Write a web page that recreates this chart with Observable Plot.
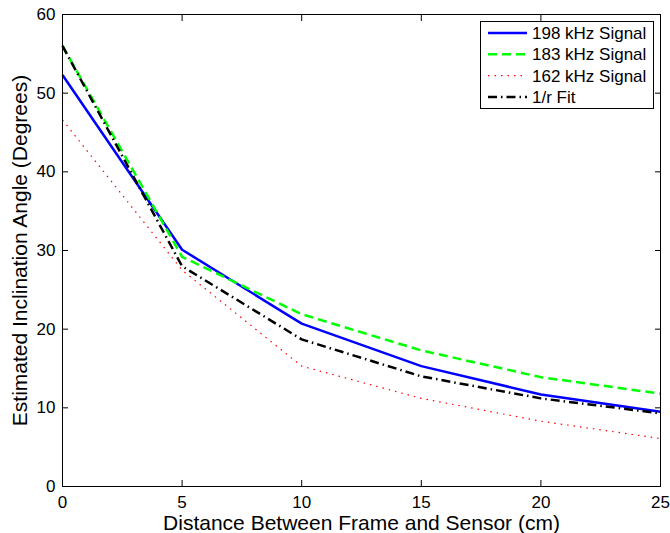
<!DOCTYPE html>
<html><head><meta charset="utf-8">
<script src="https://cdn.jsdelivr.net/npm/d3@7"></script>
<script src="https://cdn.jsdelivr.net/npm/@observablehq/plot@0.6"></script>
<style>
body{margin:0;background:#fff;}
#wrap{position:relative;width:670px;height:533px;font-family:"Liberation Sans",Arial,sans-serif;}
#legend{position:absolute;left:480px;top:21px;}
</style></head><body><div id="wrap"></div>
<script>
// ---- data ----
const distances = [0, 5, 10, 15, 20, 25];
const signal198 = [52.3, 30.1, 20.7, 15.3, 11.7, 9.5];
const signal183 = [56.0, 29.2, 21.9, 17.3, 13.9, 11.8];
const signal162 = [46.6, 27.5, 15.3, 11.2, 8.3, 6.1];
const fitValues = [56.0, 28.0, 18.7, 14.0, 11.2, 9.3];
const seriesNames = ["198 kHz Signal", "183 kHz Signal", "162 kHz Signal", "1/r Fit"];
const xTicks = [0, 5, 10, 15, 20, 25];
const yTicks = [0, 10, 20, 30, 40, 50, 60];
const xTitle = "Distance Between Frame and Sensor (cm)";
const yTitle = "Estimated Inclination Angle (Degrees)";

// ---- styles ----
const styles = [
  {stroke: "#0000ff", strokeWidth: 2.5, dash: null},
  {stroke: "#00ff00", strokeWidth: 2.5, dash: "9,5"},
  {stroke: "#ff0000", strokeWidth: 1.2, dash: "1.5,5"},
  {stroke: "#000000", strokeWidth: 2.5, dash: "9,4,1.5,4"}
];
const seriesValues = [signal198, signal183, signal162, fitValues];
const rows = seriesNames.map((name, i) => distances.map((d, j) => ({name, x: d, y: seriesValues[i][j]})));

const lineMarks = rows.map((r, i) => Plot.line(r, {
  x: "x", y: "y",
  stroke: styles[i].stroke, strokeWidth: styles[i].strokeWidth,
  strokeDasharray: styles[i].dash, strokeLinecap: "butt", strokeLinejoin: "round"
}));

const fontFam = "'Liberation Sans', Arial, sans-serif";
const chart = Plot.plot({
  width: 670, height: 533,
  marginLeft: 62, marginRight: 10, marginTop: 14, marginBottom: 47,
  style: {fontFamily: fontFam, fontSize: "17px", color: "black", background: "white", overflow: "visible"},
  x: {domain: [0, 25]},
  y: {domain: [0, 60]},
  marks: [
    ...lineMarks,
    Plot.axisX(xTicks, {anchor: "bottom", tickSize: -6, tickPadding: 15, label: null, fontSize: 17}),
    Plot.axisX(xTicks, {anchor: "top", tickSize: -6, tickFormat: () => "", label: null}),
    Plot.axisY(yTicks, {anchor: "left", tickSize: -6, tickPadding: 13, label: null, fontSize: 17}),
    Plot.axisY(yTicks, {anchor: "right", tickSize: -6, tickFormat: () => "", label: null}),
    Plot.text([xTitle], {text: d => d, frameAnchor: "bottom", textAnchor: "middle", lineAnchor: "middle", dy: 37, fontSize: 21}),
    Plot.text([yTitle], {text: d => d, frameAnchor: "left", textAnchor: "middle", lineAnchor: "middle", rotate: -90, dx: -42, fontSize: 21}),
    Plot.frame({stroke: "black", strokeWidth: 1})
  ]
});
const wrap = document.getElementById("wrap");
wrap.appendChild(chart);

// ---- legend ----
const lg = d3.select(wrap).append("div").attr("id", "legend")
  .append("svg").attr("width", 175).attr("height", 89)
  .style("font-family", fontFam);
lg.append("rect").attr("x", 0.5).attr("y", 0.5).attr("width", 173).attr("height", 87)
  .attr("fill", "white").attr("stroke", "black");
seriesNames.forEach((name, i) => {
  const cy = 12 + i * 21.3;
  lg.append("line").attr("x1", 8).attr("x2", 47).attr("y1", cy).attr("y2", cy)
    .attr("stroke", styles[i].stroke).attr("stroke-width", styles[i].strokeWidth)
    .attr("stroke-dasharray", styles[i].dash);
  lg.append("text").attr("x", 52).attr("y", cy).attr("dy", "0.35em")
    .attr("font-size", 17).text(name);
});
</script></body></html>
